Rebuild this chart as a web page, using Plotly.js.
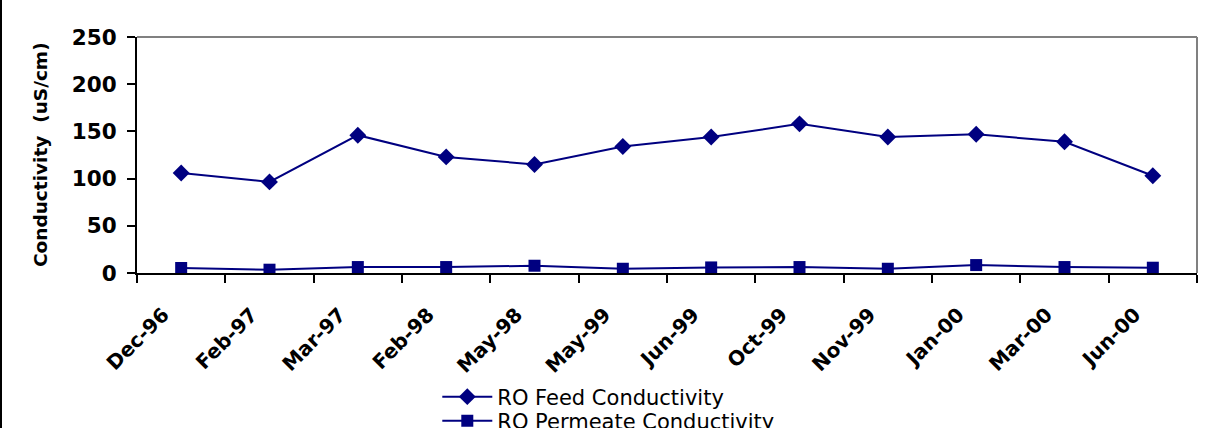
<!DOCTYPE html>
<html>
<head>
<meta charset="utf-8">
<script src="https://cdn.plot.ly/plotly-3.0.1.min.js"></script>
<style>
html,body{margin:0;padding:0;background:#fff;overflow:hidden;}
#chart{width:1208px;height:428px;position:relative;}
#edge{position:absolute;left:0;top:0;width:2px;height:428px;background:#000;}
</style>
</head>
<body>
<div id="chart"></div>
<div id="edge"></div>
<script>
const categories = ["Dec-96","Feb-97","Mar-97","Feb-98","May-98","May-99","Jun-99","Oct-99","Nov-99","Jan-00","Mar-00","Jun-00"];
const feedConductivity = [106, 96.5, 146, 123, 115, 134, 144, 158, 144, 147, 139, 103];
const permeateConductivity = [5.3, 3.5, 6.3, 6.3, 7.7, 4.5, 5.9, 6.3, 4.5, 8.4, 6.3, 5.6];
const yTicks = [0, 50, 100, 150, 200, 250];
const yTitle = "Conductivity \u00a0(uS/cm)";

const navy = "#000080";
const FONT = "DejaVu Sans, Liberation Sans, Arial, sans-serif";
const traces = [
  {x: categories, y: feedConductivity, name: "RO Feed Conductivity", type: "scatter", mode: "lines+markers",
   line: {color: navy, width: 2}, marker: {symbol: "diamond", size: 13, color: navy}, legend: "legend"},
  {x: categories, y: permeateConductivity, name: "RO Permeate Conductivity", type: "scatter", mode: "lines+markers",
   line: {color: navy, width: 2}, marker: {symbol: "square", size: 12, color: navy}, legend: "legend2"}
];
const legendCommon = {xref: "container", yref: "container", xanchor: "left", yanchor: "middle",
  font: {size: 21, family: FONT, color: "#000"}, bgcolor: "rgba(0,0,0,0)", itemwidth: 50};
const layout = {
  width: 1208, height: 428,
  margin: {l: 137, r: 11, t: 37, b: 155, autoexpand: false},
  paper_bgcolor: "#fff", plot_bgcolor: "#fff",
  font: {family: FONT, color: "#000"},
  showlegend: true,
  legend: Object.assign({x: 0.362, y: 1 - 397/428}, legendCommon),
  legend2: Object.assign({x: 0.362, y: 1 - 421/428}, legendCommon),
  xaxis: {type: "category", tickson: "boundaries", ticks: "outside", ticklen: 8, tickwidth: 2, tickcolor: "#000",
          showline: true, linecolor: "#000", linewidth: 2, showgrid: false, zeroline: false,
          tickangle: -45, ticklabelshift: -18, ticklabelstandoff: 20,
          tickfont: {size: 20, family: FONT, weight: "bold"},
          range: [-0.5, 11.5]},
  yaxis: {range: [0, 250], tickvals: yTicks, ticks: "outside", ticklen: 8, tickwidth: 2, tickcolor: "#000",
          showline: true, linecolor: "#000", linewidth: 2, showgrid: false, zeroline: false,
          ticklabelstandoff: 6,
          tickfont: {size: 21.5, family: FONT, weight: "bold"}},
  annotations: [
    {text: yTitle, xref: "paper", yref: "paper", x: -0.0915, y: 0.5, xanchor: "center", yanchor: "middle",
     textangle: -90, showarrow: false, font: {size: 18.5, family: FONT, weight: "bold", color: "#000"}}
  ],
  shapes: [
    {type: "line", xref: "paper", yref: "paper", x0: 0, x1: 1, y0: 1, y1: 1, line: {color: "#808080", width: 2}},
    {type: "line", xref: "paper", yref: "paper", x0: 1, x1: 1, y0: 0, y1: 1, line: {color: "#808080", width: 2}}
  ]
};
Plotly.newPlot("chart", traces, layout, {displayModeBar: false, staticPlot: true});
</script>
</body>
</html>
